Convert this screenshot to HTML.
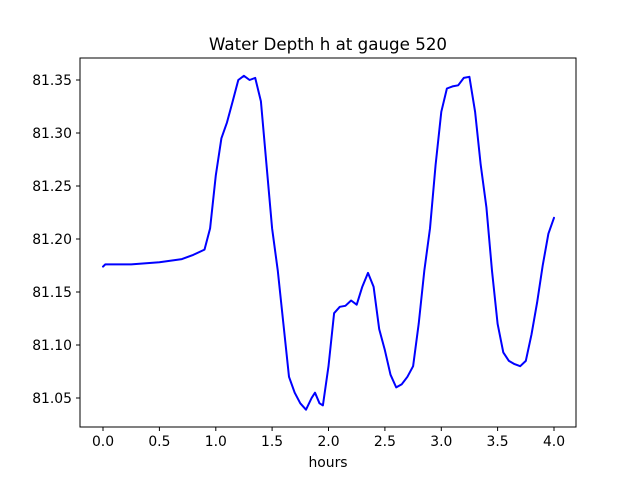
<!DOCTYPE html>
<html><head><style>body{margin:0;background:#fff}svg{display:block}</style></head><body>
<svg width="640" height="480" xmlns="http://www.w3.org/2000/svg" font-family="DejaVu Sans, Liberation Sans, sans-serif" font-size="13.9">
<rect width="640" height="480" fill="#fff"/>
<text x="328" y="50" text-anchor="middle" font-size="16.7">Water Depth h at gauge 520</text>
<polyline fill="none" stroke="#0000ff" stroke-width="2" stroke-linejoin="round" stroke-linecap="round" points="103,266.6 105.3,264.4 131.2,264.4 159.4,262.3 181.9,259.1 193.2,254.9 204.5,249.6 210.1,228.4 215.8,175.4 221.4,138.3 227,122.4 232.7,101.2 238.3,80 243.9,75.8 249.6,80 255.2,77.9 260.9,101.2 266.5,164.8 272.1,228.4 277.8,270.8 283.4,323.8 289,376.8 294.7,392.7 300.3,403.3 306,409.7 311.6,398 315,392.7 319.5,403.3 322.9,405.4 328.5,366.2 334.1,313.2 339.8,306.8 345.4,305.8 351.1,300.5 356.7,304.7 362.3,286.7 368,272.9 373.6,286.7 379.2,329.1 384.9,350.3 390.5,374.7 396.2,387.4 401.8,384.2 407.4,376.8 413.1,366.2 418.7,323.8 424.3,270.8 430,228.4 435.6,164.8 441.3,111.8 446.9,88.5 452.5,86.4 458.2,85.3 463.8,77.9 469.4,76.8 475.1,111.8 480.7,164.8 486.4,207.2 492,270.8 497.6,323.8 503.3,352.4 508.9,360.9 514.5,364.1 520.2,366.2 525.8,360.9 531.5,334.4 537.1,302.6 542.7,265.5 548.4,233.7 554,217.8"/>
<rect x="80" y="58" width="496" height="369" fill="none" stroke="#000" stroke-width="1"/>
<g stroke="#000" stroke-width="1">
<line x1="103" y1="427" x2="103" y2="431"/><line x1="159.4" y1="427" x2="159.4" y2="431"/><line x1="215.8" y1="427" x2="215.8" y2="431"/><line x1="272.1" y1="427" x2="272.1" y2="431"/><line x1="328.5" y1="427" x2="328.5" y2="431"/><line x1="384.9" y1="427" x2="384.9" y2="431"/><line x1="441.3" y1="427" x2="441.3" y2="431"/><line x1="497.6" y1="427" x2="497.6" y2="431"/><line x1="554" y1="427" x2="554" y2="431"/>
<line x1="76" y1="80" x2="80" y2="80"/><line x1="76" y1="133" x2="80" y2="133"/><line x1="76" y1="186" x2="80" y2="186"/><line x1="76" y1="239" x2="80" y2="239"/><line x1="76" y1="292" x2="80" y2="292"/><line x1="76" y1="345" x2="80" y2="345"/><line x1="76" y1="398" x2="80" y2="398"/>
</g>
<g text-anchor="middle">
<text x="103" y="446">0.0</text><text x="159.4" y="446">0.5</text><text x="215.8" y="446">1.0</text><text x="272.1" y="446">1.5</text><text x="328.5" y="446">2.0</text><text x="384.9" y="446">2.5</text><text x="441.3" y="446">3.0</text><text x="497.6" y="446">3.5</text><text x="554" y="446">4.0</text>
<text x="328" y="467">hours</text>
</g>
<g text-anchor="end">
<text x="72" y="85">81.35</text><text x="72" y="138">81.30</text><text x="72" y="191">81.25</text><text x="72" y="244">81.20</text><text x="72" y="297">81.15</text><text x="72" y="350">81.10</text><text x="72" y="403">81.05</text>
</g>
</svg>
</body></html>
